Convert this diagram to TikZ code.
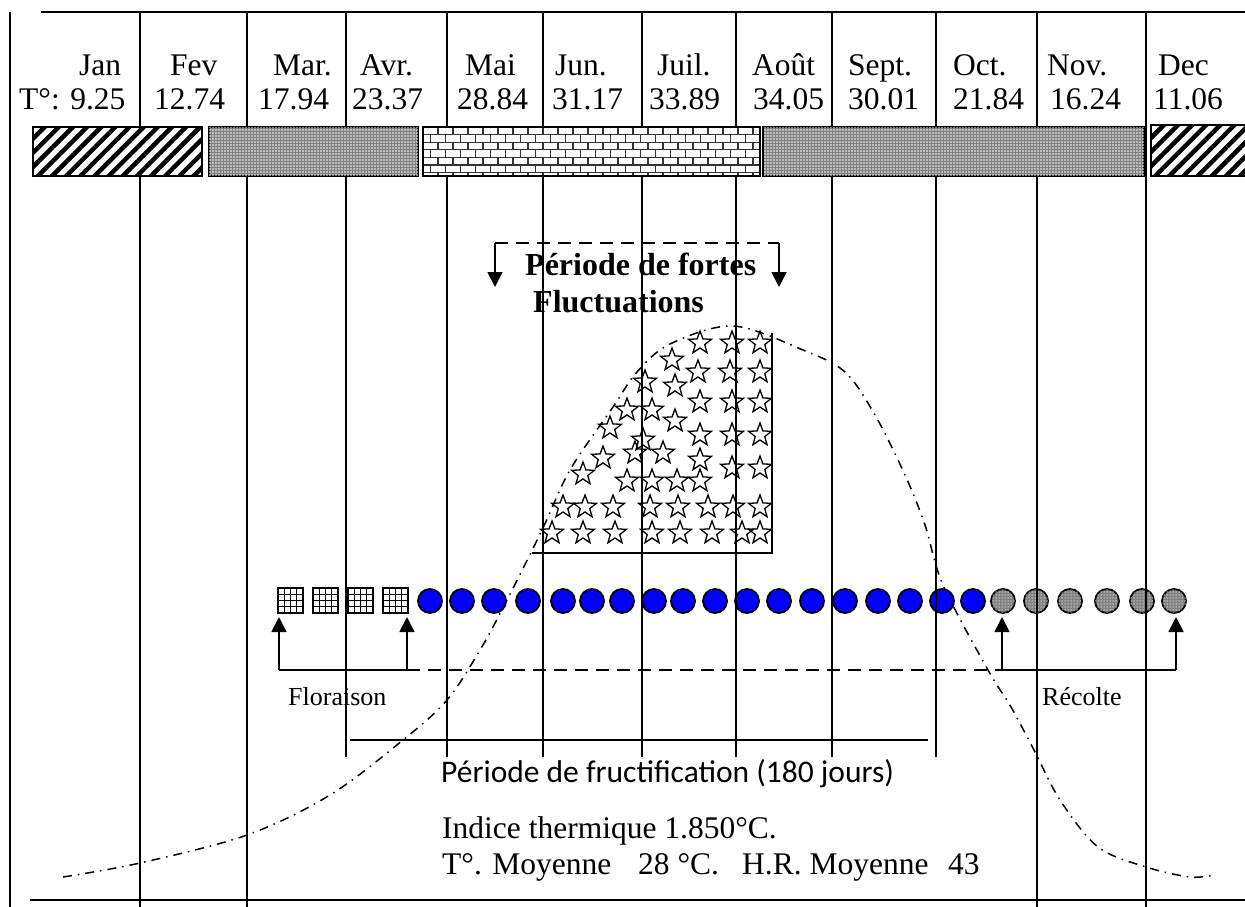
\documentclass[tikz,border=0pt]{standalone}
\usepackage{fontspec}
\setmainfont{Liberation Serif}
\newfontfamily\calib{Carlito}
\usetikzlibrary{patterns,patterns.meta,arrows.meta}
\begin{document}
\begin{tikzpicture}[x=1pt,y=-1pt,
  rule/.style={line width=1.8pt},
  mtxt/.style={font=\fontsize{31.5}{36}\selectfont, inner sep=0, anchor=base west},
  btxt/.style={font=\fontsize{32}{36}\selectfont\bfseries, inner sep=0, anchor=base west},
  stxt/.style={font=\fontsize{26}{30}\selectfont, inner sep=0, anchor=base west},
  ctxt/.style={font=\calib\fontsize{31.5}{36}\selectfont, inner sep=0, anchor=base west},
  bluedot/.style={circle, draw, line width=1.8pt, fill=blue, minimum size=24pt, inner sep=0},
  greydot/.style={circle, draw, line width=1.8pt, fill=black!50,
     postaction={pattern={Dots[distance=3pt,radius=0.75pt]}, pattern color=white!85!black},
     minimum size=24pt, inner sep=0},
  arr/.style={line width=1.8pt, -{Triangle[length=15pt,width=15pt]}},
  dashline/.style={line width=1.8pt, dash pattern=on 13pt off 8pt},
  curve/.style={line width=1.5pt, dash pattern=on 9pt off 6pt on 1.5pt off 6pt},
  stripebar/.style={line width=1.8pt, preaction={fill=white},
     pattern={Lines[angle=45,distance=10pt,line width=4.5pt]}},
  dotbar/.style={line width=1.8pt, fill=black!50,
     postaction={pattern={Dots[distance=3pt,radius=0.85pt]}, pattern color=white}},
  staro/.pic={\draw[line width=1.3pt, line join=miter]
     (270:12) -- (306:5) -- (342:12) -- (18:5) -- (54:12) -- (90:5)
     -- (126:12) -- (162:5) -- (198:12) -- (234:5) -- cycle;}
]
\useasboundingbox (0,0) rectangle (1245,907);

% ---------- header texts ----------
\node[mtxt] (mJan) at (79,75) {Jan};
\node[mtxt] (mFev) at (170,75) {Fev};
\node[mtxt] (mMar) at (273,75) {Mar.};
\node[mtxt] (mAvr) at (360,75) {Avr.};
\node[mtxt] (mMai) at (465,75) {Mai};
\node[mtxt] (mJun) at (555,75) {Jun.};
\node[mtxt] (mJul) at (657,75) {Juil.};
\node[mtxt] (mAou) at (752,75) {Août};
\node[mtxt] (mSep) at (848,75) {Sept.};
\node[mtxt] (mOct) at (953,75) {Oct.};
\node[mtxt] (mNov) at (1047,75) {Nov.};
\node[mtxt] (mDec) at (1158,75) {Dec};
\node[mtxt] (tJan) at (19,110) {T°: 9.25};
\node[mtxt] (tFev) at (154,110) {12.74};
\node[mtxt] (tMar) at (258,110) {17.94};
\node[mtxt] (tAvr) at (352,110) {23.37};
\node[mtxt] (tMai) at (457,110) {28.84};
\node[mtxt] (tJun) at (552,110) {31.17};
\node[mtxt] (tJul) at (649,110) {33.89};
\node[mtxt] (tAou) at (753,110) {34.05};
\node[mtxt] (tSep) at (848,110) {30.01};
\node[mtxt] (tOct) at (953,110) {21.84};
\node[mtxt] (tNov) at (1050,110) {16.24};
\node[mtxt] (tDec) at (1153,110) {11.06};

% ---------- fluctuation title ----------
\node[btxt] (fl1) at (525,275) {Période de fortes};
\node[btxt] (fl2) at (533,312) {Fluctuations};
\coordinate (tl) at (495,243);
\coordinate (tr) at (779,243);
\coordinate (tlb) at (495,287);
\coordinate (trb) at (779,287);
\draw[dashline] (tl) -- (tr);
\draw[arr] (tl) -- (tlb);
\draw[arr] (tr) -- (trb);

% ---------- stars ----------
\foreach \sx/\sy in {700/343,732/343,760/343,
  672/360,698/372,730/372,760/372,
  645/382,675/386,
  700/402,732/402,760/402,
  627/410,652/410,675/421,
  610/428,700/435,732/435,760/435,643/440,
  635/453,663/453,603/458,700/460,732/468,760/468,583/474,
  627/481,652/481,677/481,700/481,
  563/507,585/507,613/507,650/507,678/507,708/507,733/507,760/507,
  552/533,583/533,615/533,652/533,680/533,712/533,742/533,760/533}
  \pic at (\sx,\sy) {staro};
\coordinate (sTop) at (772,333);
\coordinate (sCorner) at (772,553);
\coordinate (sLeft) at (532,553);
\draw[rule] (sTop) -- (sCorner) -- (sLeft);

% ---------- bell curve ----------
\draw[curve] plot[smooth, tension=0.55] coordinates {(63,877) (140,863) (247,835) (330,795)
  (403,740) (447,700) (480,650) (507,600) (542,530) (570,470) (613,407) (637,372)
  (670,344) (733,326) (803,350) (845,372) (875,415) (905,475) (925,525) (943,585)
  (988,670) (1011,707) (1034,750) (1060,800) (1098,847) (1146,867) (1190,877) (1214,875)};

% ---------- flowering squares ----------
\foreach \q [count=\i] in {278,313,348,383}{
  \draw[line width=1.2pt] (\q+6.25,588) -- (\q+6.25,613) (\q+12.5,588) -- (\q+12.5,613) (\q+18.75,588) -- (\q+18.75,613)
    (\q,594.25) -- (\q+25,594.25) (\q,600.5) -- (\q+25,600.5) (\q,606.75) -- (\q+25,606.75);
  \draw[line width=1.8pt] (\q,588) rectangle (\q+25,613);
}
% ---------- fruit circles ----------
\foreach \cx [count=\i] in {430,462,494,528,563,592,622,654,683,715,747,779,812,845,878,910,942,973}
  \node[bluedot] (b\i) at (\cx,601) {};
\foreach \cx [count=\i] in {1003,1036,1070,1107,1142,1174}
  \node[greydot] (g\i) at (\cx,601) {};

% ---------- flowering / harvest arrows ----------
\coordinate (f1) at (279,670);
\coordinate (f2) at (407,670);
\coordinate (r1) at (1002,670);
\coordinate (r2) at (1176,670);
\coordinate (f1t) at (279,617);
\coordinate (f2t) at (407,617);
\coordinate (r1t) at (1002,617);
\coordinate (r2t) at (1176,617);
\draw[rule] (f1) -- (f2);
\draw[dashline] (f2) -- (r1);
\draw[rule] (r1) -- (r2);
\draw[arr] (f1) -- (f1t);
\draw[arr] (f2) -- (f2t);
\draw[arr] (r1) -- (r1t);
\draw[arr] (r2) -- (r2t);
\node[stxt] (flor) at (288,705) {Floraison};
\node[stxt] (reco) at (1042,705) {Récolte};

% ---------- fructification ----------
\coordinate (fa) at (350,740);
\coordinate (fb) at (928,740);
\draw[rule] (fa) -- (fb);
\node[ctxt] (fruc) at (441,782) {Période de fructification (180 jours)};
\node[mtxt] (ind) at (442,838) {Indice thermique 1.850°C.};
\node[mtxt] (moy1) at (442,874) {T°. Moyenne};
\node[mtxt] (moy2) at (638,874) {28 °C.};
\node[mtxt] (moy3) at (742,874) {H.R. Moyenne};
\node[mtxt] (moy4) at (948,874) {43};

% ---------- frame and month lines ----------
\draw[rule] (10,12) -- (10,907);
\draw[rule] (41,12) -- (1245,12);
\draw[rule] (30,900) -- (1245,900);
\foreach \vx in {140,247,1037,1146} \draw[rule] (\vx,12) -- (\vx,907);
\foreach \vx in {346,447,543,642,736,832,936} \draw[rule] (\vx,12) -- (\vx,757);

% ---------- season bars ----------
\draw[stripebar] (33,127) rectangle (202,176);
\draw[dotbar] (209,127) rectangle (418,176);
\begin{scope}
  \clip (423,127) rectangle (760,176);
  \fill[white] (423,127) rectangle (760,176);
  \foreach \r [evaluate=\r as \yy using 127+7.6*\r, evaluate=\r as \off using {mod(\r,2)*7.5}] in {0,...,6}{
    \draw[line width=1.3pt, black!80] (423,\yy) -- (760,\yy);
    \foreach \k in {0,...,23}
      \draw[line width=1.3pt, black!80] (423+\off+15*\k,\yy) -- (423+\off+15*\k,\yy+7.6);
  }
\end{scope}
\draw[rule] (423,127) rectangle (760,176);
\draw[dotbar] (763,127) rectangle (1144,176);
\draw[stripebar] (1151,125) rectangle (1252,176);
\end{tikzpicture}
\end{document}
